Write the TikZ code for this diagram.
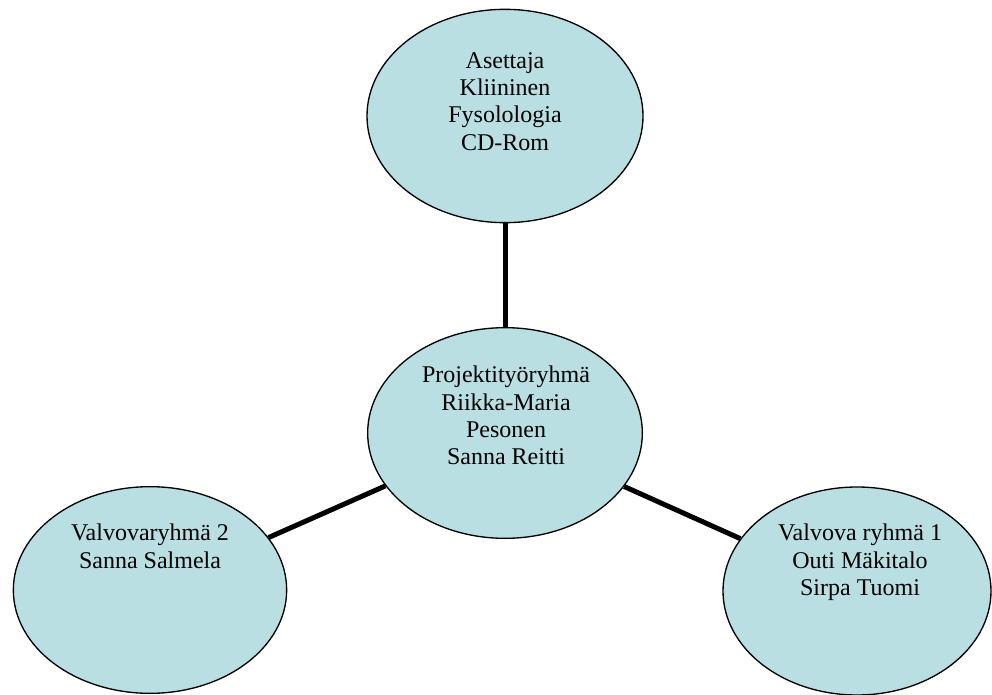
\documentclass[tikz,border=0pt]{standalone}
\usepackage{fontspec}
\setmainfont{Liberation Serif}
\usetikzlibrary{shapes.geometric}
\definecolor{paleblue}{RGB}{185,223,227}
\begin{document}
\begin{tikzpicture}[x=0.75pt,y=-0.75pt,
        group/.style={ellipse,draw,line width=1pt,fill=paleblue,inner sep=0pt},
        names/.style={align=center,anchor=north,inner sep=0pt,font=\fontsize{18pt}{20.5pt}\selectfont},
        link/.style={line width=3.75pt}]
        \useasboundingbox (0,0) rectangle (992,695);
        \node [group,minimum width=207pt,minimum height=160pt] (setter) at (505,116) {};
        \node [group,minimum width=206pt,minimum height=158pt] (project) at (505,433) {};
        \node [group,minimum width=205pt,minimum height=155pt] (watchTwo) at (150,590) {};
        \node [group,minimum width=201pt,minimum height=156pt] (watchOne) at (857,591) {};
        \draw [link] (setter) -- (project);
        \draw [link] (project) -- (watchTwo);
        \draw [link] (project) -- (watchOne);
        \node [names] (setterText) at (505,52) {Asettaja\\Kliininen\\Fysolologia\\CD-Rom};
        \node [names] (projectText) at (506,366) {Projektityöryhmä\\Riikka-Maria\\Pesonen\\Sanna Reitti};
        \node [names] (watchTwoText) at (150,524) {Valvovaryhmä 2\\Sanna Salmela};
        \node [names] (watchOneText) at (860,524) {Valvova ryhmä 1\\Outi Mäkitalo\\Sirpa Tuomi};
\end{tikzpicture}
\end{document}
